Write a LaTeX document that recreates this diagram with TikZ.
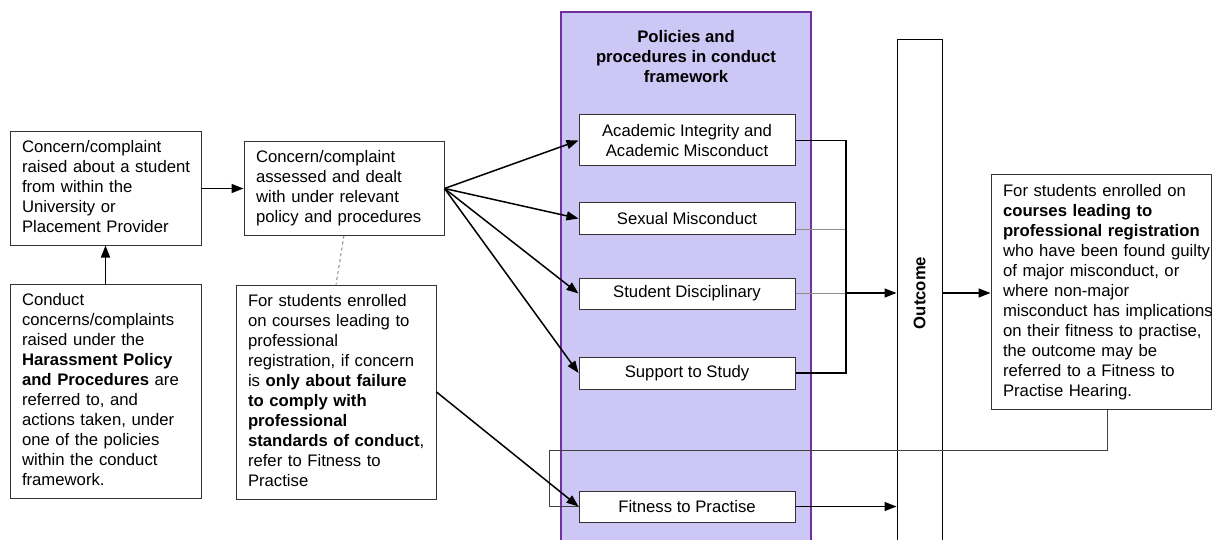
\documentclass[tikz,border=0pt]{standalone}
\usepackage{fontspec}
\setmainfont{Liberation Sans}
\usetikzlibrary{arrows.meta}

\definecolor{panelfill}{RGB}{204,199,245}
\definecolor{panelline}{RGB}{112,48,160}
\newcommand{\diagfont}{\fontsize{16.7}{20}\selectfont}
\newcommand{\boxlines}[1]{\begin{tabular}{@{}l@{}}#1\end{tabular}}

\tikzset{
  infobox/.style={draw=black!80, line width=1pt, fill=white, align=left,
    inner xsep=12pt, inner ysep=0pt, font=\diagfont},
  policy/.style={draw=black!80, line width=1pt, fill=white, align=center,
    minimum width=216pt, inner sep=0pt, font=\diagfont},
  arr/.style={line width=1.5pt, -{Triangle[length=12pt,width=9pt]}},
  thinline/.style={line width=0.8pt, black!45}
}

\begin{document}
\begin{tikzpicture}[x=1pt, y=-1pt]
	\useasboundingbox (0,0) rectangle (1212,540);
	% conduct framework panel
	\node[draw=panelline, fill=panelfill, line width=1.5pt, minimum width=250pt, minimum height=533pt] (panel) at (686,278.5) {};
	\node[align=center, font=\diagfont\bfseries] (paneltitle) at (686,57) {Policies and\\procedures in conduct\\framework};

	\node[infobox, text width=167pt, minimum height=113pt] (raised) at (105.5,188.5) {\boxlines{Concern/complaint\\raised about a student\\from within the\\University or\\Placement Provider}};
	\node[infobox, text width=176pt, minimum height=93pt] (assessed) at (344,188.5) {\boxlines{Concern/complaint\\assessed and dealt\\with under relevant\\policy and procedures}};
	\node[infobox, text width=167pt, minimum height=214pt] (conduct) at (105.5,391) {\boxlines{Conduct\\concerns/complaints\\raised under the\\\textbf{Harassment Policy}\\\textbf{and Procedures} are\\referred to, and\\actions taken, under\\one of the policies\\within the conduct\\framework.}};
	\node[infobox, text width=176pt, minimum height=214pt] (registration) at (336,392) {\boxlines{For students enrolled\\on courses leading to\\professional\\registration, if concern\\is \textbf{only about failure}\\\textbf{to comply with}\\\textbf{professional}\\\textbf{standards of conduct},\\refer to Fitness to\\Practise}};
	\node[infobox, text width=196pt, minimum height=234pt] (hearing) at (1101,292) {\boxlines{For students enrolled on\\\textbf{courses leading to}\\\textbf{professional registration}\\who have been found guilty\\of major misconduct, or\\where non-major\\misconduct has implications\\on their fitness to practise,\\the outcome may be\\referred to a Fitness to\\Practise Hearing.}};

	% policies
	\node[policy, minimum height=51pt] (integrity) at (687,140.5) {Academic Integrity and\\Academic Misconduct};
	\node[policy, minimum height=31pt] (sexual) at (687,218.5) {Sexual Misconduct};
	\node[policy, minimum height=31pt] (disciplinary) at (687,293.5) {Student Disciplinary};
	\node[policy, minimum height=32pt] (support) at (687,373) {Support to Study};
	\node[policy, minimum height=31pt] (fitness) at (687,506.5) {Fitness to Practise};

	\node[draw=black, line width=1pt, fill=white, minimum width=45pt, minimum height=506pt] (outcome) at (919.5,293) {};
	\node[rotate=90, font=\diagfont\bfseries] (outcomelabel) at (outcome) {Outcome};

	\coordinate (join) at (846,293);
	\coordinate (loopcorner) at (549,450);

	% connectors
	\draw[arr] (conduct) -- (raised);
	\draw[arr] (raised) -- (assessed);
	\foreach \p in {integrity,sexual,disciplinary,support}
		\draw[arr] (assessed.east) -- (\p.west);
	\draw[dashed, black!60, line width=0.8pt] (assessed.south) -- (registration.north);
	\draw[line width=1pt, black!75] ([xshift=6pt]hearing.south) |- (loopcorner) |- (fitness.west);
	\draw[arr] (registration.east) -- (fitness.west);
	\draw[thinline] ([yshift=-10.5pt]sexual.east) coordinate (sx) -- (sx -| join);
	\draw[thinline] (disciplinary.east) -- (disciplinary.east -| join);
	\draw[line width=1.5pt] (integrity.east) -| (join) |- (support.east);
	\draw[arr] (join) -- (join -| outcome.west);
	\draw[arr] (outcome.east) -- (outcome.east -| hearing.west);
	\draw[arr] (fitness.east) -- (fitness.east -| outcome.west);
\end{tikzpicture}
\end{document}
